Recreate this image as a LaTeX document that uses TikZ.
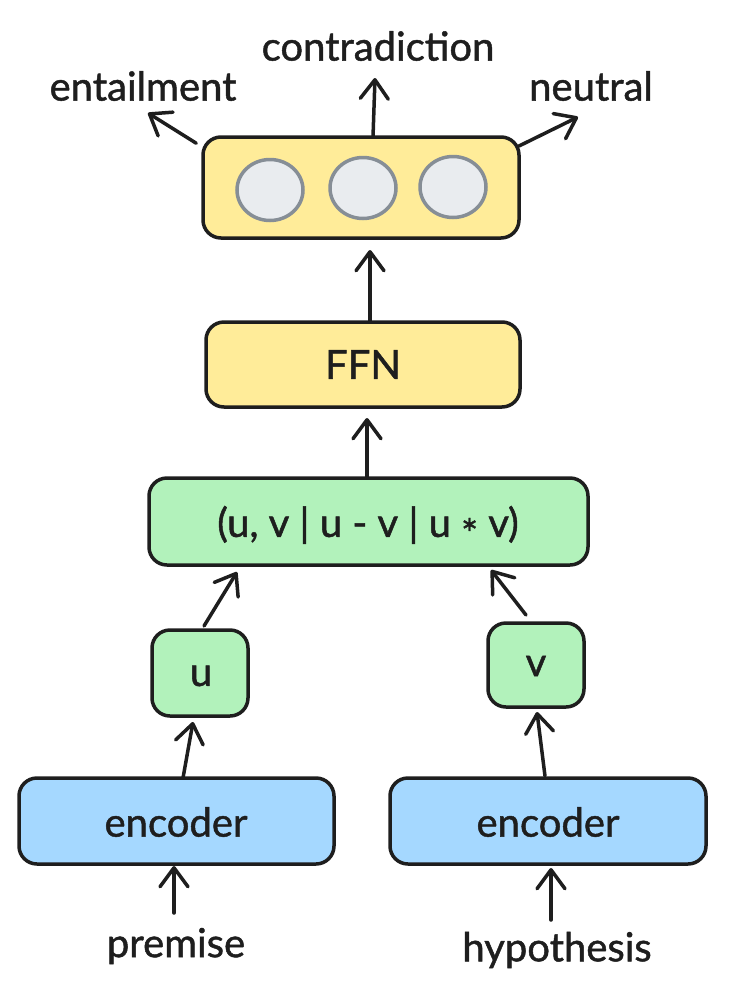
\documentclass[tikz,border=0pt]{standalone}
\usepackage{fontspec}
\setmainfont{Lato}
\newfontfamily\lblfont{Lato}[FakeBold=1.2]
\usetikzlibrary{arrows.meta,shapes.geometric}
\definecolor{ink}{HTML}{1E1E1E}
\definecolor{bluef}{HTML}{A5D8FF}
\definecolor{greenf}{HTML}{B2F2BB}
\definecolor{yellowf}{HTML}{FFEC99}
\definecolor{circf}{HTML}{E9ECEF}
\definecolor{circd}{HTML}{868E96}
\tikzset{
  box/.style={draw=ink, line width=3.5pt, rounded corners=18pt, inner sep=0pt},
  lbl/.style={text=ink, font=\lblfont\fontsize{40}{44}\selectfont, inner sep=0pt},
  conn/.style={draw=ink, line width=3.5pt, line cap=round, -{Straight Barb[length=19pt, width=28pt, line width=3.5pt, round]}},
  neuron/.style={draw=circd, fill=circf, line width=3.5pt, ellipse, minimum width=66pt, minimum height=61pt, inner sep=0pt}
}
\begin{document}
\begin{tikzpicture}[x=1pt,y=-1pt]
\useasboundingbox (0,0) rectangle (740,994);
% output box
\node[box, fill=yellowf, minimum width=316pt, minimum height=101pt] (out) at (361,187.5) {};
\node[neuron] (c1) at (270,190) {};
\node[neuron] (c2) at (363,188) {};
\node[neuron] (c3) at (453,187) {};
\node[lbl] (ent) at (143,86) {entailment};
\node[lbl] (con) at (378,46) {contradiction};
\node[lbl] (neu) at (591,86) {neutral};
\coordinate (ea) at (148,113);
\coordinate (ca) at (375,78);
\coordinate (na) at (578,117);
\draw[conn] (out.north west) ++(-5,8) -- (ea);
\draw[conn] (373,137) -- (ca);
\draw[conn] (519,146) -- (na);
% FFN
\node[box, fill=yellowf, minimum width=314pt, minimum height=85pt] (ffn) at (363,364.5) {};
\node[lbl] (ffnt) at (ffn) {FFN};
\draw[conn] (370,321) -- (370,250);
% concat
\node[box, fill=greenf, minimum width=439pt, minimum height=87pt] (cat) at (368.5,521.5) {};
\node[lbl] (catt) at (368,527) {(u, v | u - v | u \raisebox{-0.28em}{*} v)};
\draw[conn] (367,478) -- (367,418);
% u v
\node[box, fill=greenf, minimum width=96pt, minimum height=86pt] (u) at (200,673) {};
\node[lbl] (ut) at (201,676) {u};
\node[box, fill=greenf, minimum width=96pt, minimum height=84pt] (v) at (536,665) {};
\node[lbl] (vt) at (536,666) {v};
\draw[conn] (204,626) -- (237,572);
\draw[conn] (526,615) -- (491,570);
% encoders
\node[box, fill=bluef, minimum width=315pt, minimum height=86pt] (encl) at (176.5,821) {};
\node[lbl] (enclt) at (176,822) {encoder};
\node[box, fill=bluef, minimum width=316pt, minimum height=86pt] (encr) at (548,821) {};
\node[lbl] (encrt) at (548,822) {encoder};
\draw[conn] (183,778) -- (193,722);
\draw[conn] (545,776) -- (537,712);
% inputs
\node[lbl] (prem) at (176,946) {premise};
\node[lbl] (hyp) at (557,950) {hypothesis};
\draw[conn] (174,913) -- (174,866);
\draw[conn] (551,920) -- (551,868);
\end{tikzpicture}
\end{document}
